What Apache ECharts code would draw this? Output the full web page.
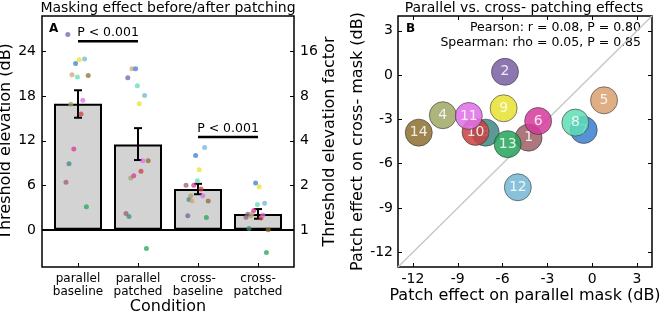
<!DOCTYPE html>
<html>
<head>
<meta charset="utf-8">
<script src="https://cdn.jsdelivr.net/npm/echarts@6/dist/echarts.min.js"></script>
<style>
html, body { margin: 0; padding: 0; background: #fff; }
#chart { width: 660px; height: 314px; }
</style>
</head>
<body>
<div id="chart"></div>
<script>
// panel A: conditions, bar means and error bar ends (dB)
var conditions = ['parallel\nbaseline', 'parallel\npatched', 'cross-\nbaseline', 'cross-\npatched'];
var barMeans = [17.0, 11.5, 5.5, 2.15];
var errLow = [15.1, 9.4, 4.8, 1.5];
var errHigh = [18.8, 13.7, 6.2, 2.8];

// subjects 1..14, same colour in both panels
var subjects = ['1', '2', '3', '4', '5', '6', '7', '8', '9', '10', '11', '12', '13', '14'];
var subjectColors = ['#9e5f66', '#7a5fa3', '#3d8a85', '#9fa765', '#d9a070', '#d6389a', '#3a7fd0',
                     '#5fdcb5', '#e8e030', '#c84040', '#df6fe8', '#74b6d4', '#24a55a', '#8d6e30'];
// horizontal spread of each subject's dot inside a bar (category units)
var jitter = [-0.2, -0.17, -0.15, -0.12, -0.1, -0.07, -0.04, -0.01, 0.02, 0.05, 0.08, 0.11, 0.14, 0.17];

// per subject thresholds (dB)
var parallelBaseline = [6.4, 26.3, 8.9, 16.9, 20.9, 10.9, 22.4, 20.6, 22.9, 15.6, 17.45, 23.0, 3.1, 20.8];
var parallelPatched = [2.2, 20.5, 1.8, 7.0, 21.7, 7.3, 21.7, 19.4, 17.0, 7.9, 9.3, 18.1, -2.5, 9.3];
var crossBaseline = [6.0, 1.9, 4.1, 4.6, 3.9, 6.0, 10.0, 6.6, 8.1, 5.5, 4.6, 11.1, 1.65, 3.9];
var crossPatched = [1.7, 2.1, 0.2, 1.9, 2.2, 2.6, 6.3, 3.4, 5.8, 1.6, 2.0, 3.6, -3.05, 0.0];

// significance brackets: [from, to, height dB]
var sigPairs = [[0, 1, 25.4], [2, 3, 12.5]];
var sigText = 'P < 0.001';

var dbTicks = [0, 6, 12, 18, 24];
var factorTicks = [1, 2, 4, 8, 16];

// panel B: patch effects (dB)
var parallelEffect = [-4.26, -5.84, -7.13, -10.0, 0.79, -3.62, -0.57, -1.13, -5.93, -7.81, -8.26, -4.98, -5.66, -11.61];
var crossEffect = [-4.24, 0.22, -3.9, -2.72, -1.71, -3.11, -3.72, -3.22, -2.25, -3.85, -2.77, -7.6, -4.68, -3.9];
var effectTicks = [-12, -9, -6, -3, 0, 3];
var statsLines = ['Pearson: r = 0.08, P = 0.80', 'Spearman: rho = 0.05, P = 0.85'];

var FONT = 'DejaVu Sans';
var chart = echarts.init(document.getElementById('chart'));

var condData = [parallelBaseline, parallelPatched, crossBaseline, crossPatched];

var series = [];

// bars
series.push({
    type: 'bar', xAxisIndex: 0, yAxisIndex: 0,
    data: barMeans.map(function (v, i) { return [i, v]; }),
    barWidth: 48,
    itemStyle: { color: '#d3d3d3', borderColor: '#000', borderWidth: 2 },
    z: 2,
    markLine: {
        silent: true, symbol: 'none', label: { show: false },
        lineStyle: { color: '#000', width: 2, type: 'solid' },
        data: [{ yAxis: 0 }]
    }
});

// error bars
series.push({
    type: 'custom', xAxisIndex: 0, yAxisIndex: 0, z: 4,
    data: barMeans.map(function (v, i) { return [i, errLow[i], errHigh[i]]; }),
    renderItem: function (params, api) {
        var lo = api.coord([api.value(0), api.value(1)]);
        var hi = api.coord([api.value(0), api.value(2)]);
        var cap = 4;
        var st = { stroke: '#000', lineWidth: 2 };
        return {
            type: 'group', children: [
                { type: 'line', shape: { x1: lo[0], y1: lo[1], x2: hi[0], y2: hi[1] }, style: st },
                { type: 'line', shape: { x1: lo[0] - cap, y1: lo[1], x2: lo[0] + cap, y2: lo[1] }, style: st },
                { type: 'line', shape: { x1: hi[0] - cap, y1: hi[1], x2: hi[0] + cap, y2: hi[1] }, style: st }
            ]
        };
    }
});

// subject dots
condData.forEach(function (vals, c) {
    series.push({
        type: 'scatter', xAxisIndex: 0, yAxisIndex: 0, z: 5,
        symbolSize: 5,
        data: vals.map(function (v, i) { return [c + jitter[i], v]; }),
        itemStyle: {
            opacity: 0.75,
            color: function (p) { return subjectColors[p.dataIndex]; }
        }
    });
});

// significance brackets
series.push({
    type: 'custom', xAxisIndex: 0, yAxisIndex: 0, z: 6,
    data: sigPairs,
    renderItem: function (params, api) {
        var a = api.coord([api.value(0), api.value(2)]);
        var b = api.coord([api.value(1), api.value(2)]);
        return {
            type: 'group', children: [
                { type: 'line', shape: { x1: a[0], y1: a[1], x2: b[0], y2: b[1] }, style: { stroke: '#000', lineWidth: 2.5 } },
                { type: 'text', x: (a[0] + b[0]) / 2, y: a[1] - 8,
                  style: { text: sigText, font: '12.5px "' + FONT + '"', fill: '#000',
                           align: 'center', verticalAlign: 'middle', textAlign: 'center', textVerticalAlign: 'middle' } }
            ]
        };
    }
});

// panel B diagonal
series.push({
    type: 'line', xAxisIndex: 1, yAxisIndex: 2, z: 2,
    data: [[-13, -13], [4, 4]],
    symbol: 'none', silent: true,
    lineStyle: { color: '#c8c8c8', width: 1.5 }
});

// panel B circles, one series each so later subjects sit on top
subjects.forEach(function (s, i) {
    series.push({
        type: 'scatter', xAxisIndex: 1, yAxisIndex: 2, z: 10 + i,
        symbolSize: 27,
        data: [[parallelEffect[i], crossEffect[i]]],
        itemStyle: { color: subjectColors[i], opacity: 0.85, borderColor: '#333', borderWidth: 0.7 },
        label: {
            show: true, position: 'inside', formatter: s,
            color: '#fff', fontFamily: FONT, fontSize: 14
        }
    });
});

var tickStyle = { inside: true, length: 4, lineStyle: { color: '#000', width: 1 } };
var labelStyle = { color: '#000', fontFamily: FONT, fontSize: 14 };
var nameStyle = { color: '#000', fontFamily: FONT, fontSize: 16 };
var noLine = { show: false, onZero: false };

var option = {
    animation: false,
    backgroundColor: '#fff',
    grid: [
        { left: 42, top: 16, width: 252, height: 251, outerBoundsMode: 'none', containLabel: false,
          show: true, borderColor: '#000', borderWidth: 1.5, backgroundColor: 'transparent' },
        { left: 398, top: 16, width: 254, height: 251, outerBoundsMode: 'none', containLabel: false,
          show: true, borderColor: '#000', borderWidth: 1.5, backgroundColor: 'transparent' }
    ],
    xAxis: [
        {
            type: 'value', gridIndex: 0, min: -0.6, max: 3.6,
            splitLine: { show: false }, axisLine: noLine,
            axisTick: Object.assign({ customValues: [0, 1, 2, 3] }, tickStyle),
            axisLabel: {
                customValues: [0, 1, 2, 3], margin: 5, color: '#000', fontFamily: FONT, fontSize: 12, lineHeight: 13,
                formatter: function (v) { return conditions[Math.round(v)]; }
            },
            name: 'Condition', nameLocation: 'middle', nameGap: 32, nameMoveOverlap: false,
            nameTextStyle: nameStyle
        },
        {
            type: 'value', gridIndex: 1, min: -13, max: 4,
            splitLine: { show: false }, axisLine: noLine,
            axisTick: Object.assign({ customValues: effectTicks }, tickStyle),
            axisLabel: Object.assign({ customValues: effectTicks, margin: 5 }, labelStyle),
            name: 'Patch effect on parallel mask (dB)', nameLocation: 'middle', nameGap: 21, nameMoveOverlap: false,
            nameTextStyle: nameStyle
        },
        {
            type: 'value', gridIndex: 1, position: 'top', min: -13, max: 4,
            splitLine: { show: false }, axisLine: noLine,
            axisTick: Object.assign({ customValues: effectTicks }, tickStyle),
            axisLabel: { show: false }
        }
    ],
    yAxis: [
        {
            type: 'value', gridIndex: 0, min: -5, max: 28.8,
            splitLine: { show: false }, axisLine: noLine,
            axisTick: Object.assign({ customValues: dbTicks }, tickStyle),
            axisLabel: Object.assign({ customValues: dbTicks, margin: 6 }, labelStyle),
            name: 'Threshold elevation (dB)', nameLocation: 'middle', nameGap: 24, nameTextStyle: nameStyle
        },
        {
            type: 'value', gridIndex: 0, position: 'right', min: -5, max: 28.8,
            splitLine: { show: false }, axisLine: noLine,
            axisTick: Object.assign({ customValues: dbTicks }, tickStyle),
            axisLabel: Object.assign({
                customValues: dbTicks, margin: 6,
                formatter: function (v) { return String(factorTicks[dbTicks.indexOf(v)]); }
            }, labelStyle),
            name: 'Threshold elevation factor', nameLocation: 'middle', nameGap: 28, nameTextStyle: nameStyle
        },
        {
            type: 'value', gridIndex: 1, min: -13, max: 4,
            splitLine: { show: false }, axisLine: noLine,
            axisTick: Object.assign({ customValues: effectTicks }, tickStyle),
            axisLabel: Object.assign({ customValues: effectTicks, margin: 5 }, labelStyle),
            name: 'Patch effect on cross- mask (dB)', nameLocation: 'middle', nameGap: 32, nameTextStyle: nameStyle
        },
        {
            type: 'value', gridIndex: 1, position: 'right', min: -13, max: 4,
            splitLine: { show: false }, axisLine: noLine,
            axisTick: Object.assign({ customValues: effectTicks }, tickStyle),
            axisLabel: { show: false }
        }
    ],
    graphic: [
        { type: 'text', x: 168, y: 8, style: { text: 'Masking effect before/after patching', font: '14px "' + FONT + '"', fill: '#000', align: 'center', verticalAlign: 'middle', textAlign: 'center', textVerticalAlign: 'middle' } },
        { type: 'text', x: 524, y: 8, style: { text: 'Parallel vs. cross- patching effects', font: '14px "' + FONT + '"', fill: '#000', align: 'center', verticalAlign: 'middle', textAlign: 'center', textVerticalAlign: 'middle' } },
        { type: 'text', x: 49, y: 29, style: { text: 'A', font: 'bold 12px "' + FONT + '"', fill: '#000', verticalAlign: 'middle', textVerticalAlign: 'middle' } },
        { type: 'text', x: 406, y: 29, style: { text: 'B', font: 'bold 12px "' + FONT + '"', fill: '#000', verticalAlign: 'middle', textVerticalAlign: 'middle' } },
        { type: 'text', x: 641, y: 28, style: { text: statsLines[0], font: '12.5px "' + FONT + '"', fill: '#000', align: 'right', verticalAlign: 'middle', textAlign: 'right', textVerticalAlign: 'middle' } },
        { type: 'text', x: 641, y: 43, style: { text: statsLines[1], font: '12.5px "' + FONT + '"', fill: '#000', align: 'right', verticalAlign: 'middle', textAlign: 'right', textVerticalAlign: 'middle' } }
    ],
    series: series
};

chart.setOption(option);
</script>
</body>
</html>
